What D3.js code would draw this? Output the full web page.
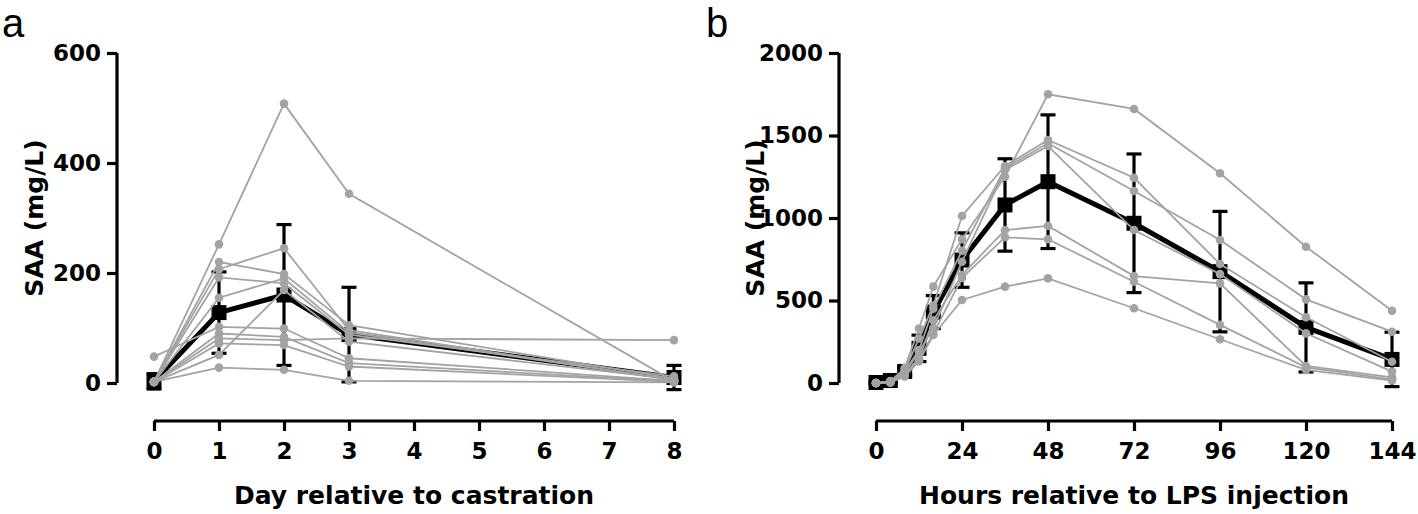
<!DOCTYPE html>
<html>
<head>
<meta charset="utf-8">
<script src="https://cdn.jsdelivr.net/npm/d3@7"></script>
<style>
  html, body { margin: 0; padding: 0; background: #fff; }
  svg { display: block; }
  text { font-family: "Liberation Sans", Arial, sans-serif; }
</style>
</head>
<body>
<svg id="chart" width="1418" height="514"></svg>
<script>
// ---------- Data: panel a ----------
const daysA = [0, 1, 2, 3, 8];
const xTicksA = [0, 1, 2, 3, 4, 5, 6, 7, 8];
const yTicksA = [0, 200, 400, 600];
const animalsA = [
  [2, 252, 508, 344, 3],
  [2, 220, 198, 105, 8],
  [2, 207, 245, 96, 5],
  [2, 192, 181, 88, 12],
  [2, 155, 190, 92, 6],
  [48, 102, 99, 45, 4],
  [2, 90, 84, 36, 3],
  [2, 81, 78, 81, 78],
  [2, 72, 69, 30, 2],
  [2, 51, 169, 75, 7],
  [2, 28, 24, 4, 1]
];
const meanA = [3, 128, 160, 88, 10];
const sdA = [14, 74, 128, 86, 22];

// ---------- Data: panel b ----------
const hoursB = [0, 4, 8, 12, 16, 24, 36, 48, 72, 96, 120, 144];
const xTicksB = [0, 24, 48, 72, 96, 120, 144];
const yTicksB = [0, 500, 1000, 1500, 2000];
const animalsB = [
  [0, 10, 90, 330, 584, 871, 1250, 1750, 1661, 1271, 826, 438],
  [0, 8, 75, 270, 470, 1012, 1315, 1473, 1244, 721, 398, 129],
  [0, 12, 70, 200, 450, 802, 1303, 1453, 1164, 867, 507, 311],
  [0, 6, 60, 190, 331, 735, 1291, 1436, 927, 660, 301, 69],
  [0, 5, 55, 150, 380, 655, 927, 952, 648, 604, 103, 34],
  [0, 4, 50, 140, 300, 637, 883, 871, 614, 352, 95, 22],
  [0, 3, 40, 130, 291, 503, 584, 634, 453, 265, 79, 15]
];
const meanB = [3, 15, 70, 210, 430, 745, 1079, 1220, 968, 675, 337, 143];
const sdB = [8, 10, 25, 80, 100, 165, 280, 405, 420, 365, 270, 165];

// ---------- Drawing ----------
const svg = d3.select("#chart");
const GRAY = "#a3a3a3";
const BOLD_FONT = '"DejaVu Sans", "Liberation Sans", Arial, sans-serif';

function panel(cfg) {
  const x = d3.scaleLinear().domain(cfg.xDomain).range([cfg.x0, cfg.x1]);
  const y = d3.scaleLinear().domain(cfg.yDomain).range([cfg.yBottom, cfg.yTop]);
  const g = svg.append("g");
  const fmt = d3.format("d");

  // y axis
  const yAxis = g.append("g")
    .attr("transform", `translate(${cfg.yAxisX},0)`)
    .call(d3.axisLeft(y).tickValues(cfg.yTicks).tickFormat(fmt)
      .tickSize(10).tickPadding(6).tickSizeOuter(0));
  // x axis
  const xAxis = g.append("g")
    .attr("transform", `translate(0,${cfg.xAxisY})`)
    .call(d3.axisBottom(x).tickValues(cfg.xTicks).tickFormat(fmt)
      .tickSize(10).tickPadding(12).tickSizeOuter(0));
  [yAxis, xAxis].forEach(a => {
    a.select(".domain").attr("stroke", "#000").attr("stroke-width", 3.2);
    a.selectAll(".tick line").attr("stroke", "#000").attr("stroke-width", 3.2);
    a.selectAll(".tick text").attr("fill", "#000")
      .style("font-size", "23px").style("font-weight", "bold")
      .style("font-family", BOLD_FONT);
  });
  yAxis.select(".domain").attr("d", `M0,${y(cfg.yDomain[1])}V${y(cfg.yDomain[0])}`);
  xAxis.select(".domain").attr("d", `M${x(cfg.xDomain[0])},0H${x(cfg.xDomain[1])}`);

  // axis titles
  g.append("text")
    .attr("transform", `translate(${cfg.yTitleX},${(cfg.yTop + cfg.yBottom) / 2}) rotate(-90)`)
    .attr("text-anchor", "middle")
    .style("font-size", "25px").style("font-weight", "bold")
    .style("font-family", BOLD_FONT)
    .text("SAA (mg/L)");
  g.append("text")
    .attr("x", (cfg.x0 + cfg.x1) / 2).attr("y", cfg.xTitleY)
    .attr("text-anchor", "middle")
    .style("font-size", "25px").style("font-weight", "bold")
    .style("font-family", BOLD_FONT)
    .text(cfg.xTitle);
  g.append("text")
    .attr("x", cfg.letterX).attr("y", cfg.letterY)
    .style("font-size", "40px")
    .text(cfg.letter);

  const xs = cfg.xs;
  // error bars
  const eb = g.append("g").attr("stroke", "#000").attr("stroke-width", 3.2).attr("fill", "none");
  xs.forEach((t, i) => {
    const cx = x(t), yt = y(cfg.mean[i] + cfg.sd[i]), yb = y(cfg.mean[i] - cfg.sd[i]);
    eb.append("line").attr("x1", cx).attr("x2", cx).attr("y1", yt).attr("y2", yb);
    eb.append("line").attr("x1", cx - 7.5).attr("x2", cx + 7.5).attr("y1", yt).attr("y2", yt);
    eb.append("line").attr("x1", cx - 7.5).attr("x2", cx + 7.5).attr("y1", yb).attr("y2", yb);
  });
  // mean line
  const line = d3.line().x((d, i) => x(xs[i])).y(d => y(d));
  g.append("path").datum(cfg.mean)
    .attr("d", line).attr("fill", "none").attr("stroke", "#000")
    .attr("stroke-width", 5).attr("stroke-linejoin", "round");
  g.selectAll(null).data(cfg.mean).enter().append("rect")
    .attr("x", (d, i) => x(xs[i]) - 7.5).attr("y", d => y(d) - 7.5)
    .attr("width", 15).attr("height", 15).attr("fill", "#000");

  // individual animals
  cfg.animals.forEach(vals => {
    g.append("path").datum(vals)
      .attr("d", line).attr("fill", "none").attr("stroke", GRAY)
      .attr("stroke-width", 1.8);
    g.selectAll(null).data(vals).enter().append("circle")
      .attr("cx", (d, i) => x(xs[i])).attr("cy", d => y(d))
      .attr("r", 4.3).attr("fill", GRAY);
  });
}

panel({
  xs: daysA, animals: animalsA, mean: meanA, sd: sdA,
  xDomain: [0, 8], yDomain: [0, 600], xTicks: xTicksA, yTicks: yTicksA,
  x0: 154, x1: 674, yTop: 53, yBottom: 383,
  yAxisX: 117, xAxisY: 421,
  yTitleX: 43, xTitleY: 504, xTitle: "Day relative to castration",
  letter: "a", letterX: 2, letterY: 37
});

panel({
  xs: hoursB, animals: animalsB, mean: meanB, sd: sdB,
  xDomain: [0, 144], yDomain: [0, 2000], xTicks: xTicksB, yTicks: yTicksB,
  x0: 876, x1: 1392, yTop: 53, yBottom: 383,
  yAxisX: 839, xAxisY: 421,
  yTitleX: 764, xTitleY: 504, xTitle: "Hours relative to LPS injection",
  letter: "b", letterX: 706, letterY: 37
});
</script>
</body>
</html>
